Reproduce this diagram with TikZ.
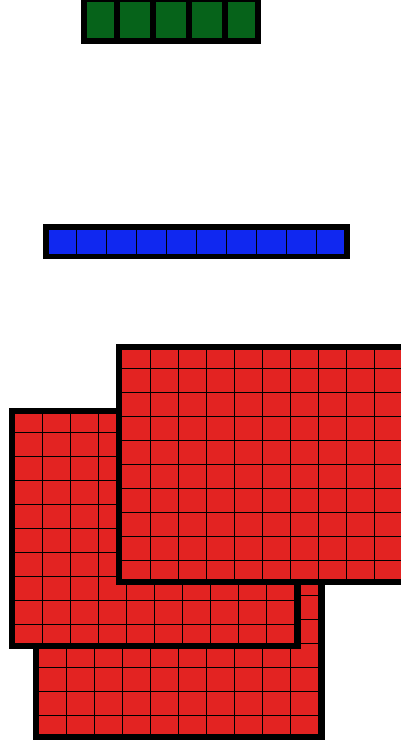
\documentclass[tikz,border=0pt]{standalone}
\definecolor{cellgreen}{RGB}{6,99,26}
\definecolor{cellblue}{RGB}{16,40,240}
\definecolor{cellred}{RGB}{227,35,34}
\tikzset{
  redfill/.style={fill=cellred},
  gridline/.style={draw=black,line width=1pt},
  frame/.style={draw=black,line width=6pt},
  blackbox/.style={fill=black},
}
\newcommand\redpanel[3]{%
  \begin{scope}
    \clip (#1,#2) rectangle ++(292,241);
    \fill[redfill] (#1,#2) rectangle ++(292,241);
    \foreach \k in {1,...,10} \draw[gridline] ({#1+#3+28*\k},#2) -- ++(0,241);
    \foreach \k in {1,...,10} \draw[gridline] (#1,{#2+24*\k}) -- ++(292,0);
  \end{scope}
  \draw[frame] ({#1+3},{#2+3}) rectangle ({#1+289},{#2+238});
}
\begin{document}
\begin{tikzpicture}[x=1pt,y=-1pt]
\useasboundingbox (0,0) rectangle (401,748);
\clip (0,0) rectangle (401,748);
% green strip
\fill[blackbox] (81,-4) rectangle (261,44);
\foreach \a/\b in {87/114,120/150,156/186,192/222,228/255}
  \fill[cellgreen] (\a,2) rectangle (\b,38);
% blue strip
\fill[blackbox] (43,224) rectangle (350,259);
\fill[cellblue] (49,230) rectangle (344,254);
\foreach \k in {0,...,8}
  \draw[gridline] ({76.5+30*\k},230) -- ++(0,24);
% red panels
\redpanel{33}{499}{5}
\redpanel{9}{408}{5}
\redpanel{116}{344}{6}
\end{tikzpicture}
\end{document}
